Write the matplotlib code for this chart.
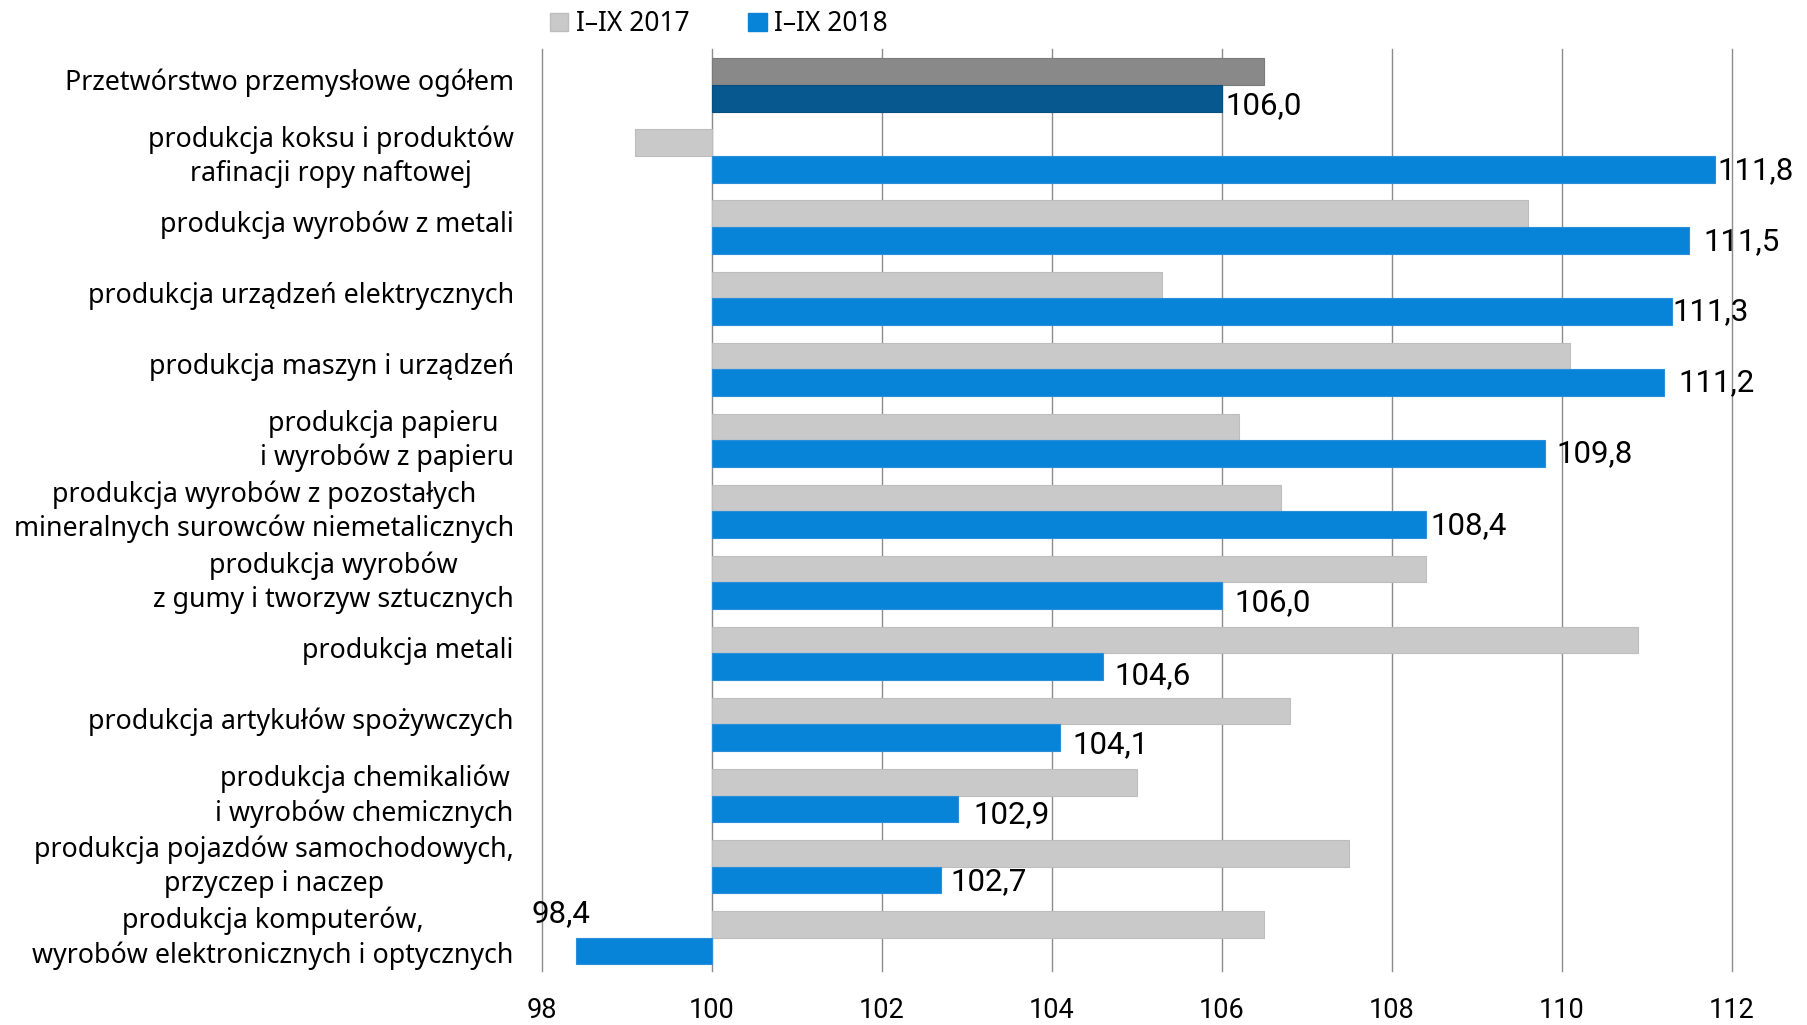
import matplotlib
matplotlib.use("Agg")
import matplotlib.pyplot as plt
import matplotlib.transforms as mtransforms
from matplotlib.patches import Patch

categories = [
    "Przetwórstwo przemysłowe ogółem",
    "produkcja koksu i produktów\nrafinacji ropy naftowej",
    "produkcja wyrobów z metali",
    "produkcja urządzeń elektrycznych",
    "produkcja maszyn i urządzeń",
    "produkcja papieru \ni wyrobów z papieru",
    "produkcja wyrobów z pozostałych\nmineralnych surowców niemetalicznych",
    "produkcja wyrobów\nz gumy i tworzyw sztucznych",
    "produkcja metali",
    "produkcja artykułów spożywczych",
    "produkcja chemikaliów\ni wyrobów chemicznych",
    "produkcja pojazdów samochodowych,\nprzyczep i naczep",
    "produkcja komputerów,\nwyrobów elektronicznych i optycznych",
]
v2017 = [106.5, 99.1, 109.6, 105.3, 110.1, 106.2, 106.7, 108.4, 110.9, 106.8, 105.0, 107.5, 106.5]
v2018 = [106.0, 111.8, 111.5, 111.3, 111.2, 109.8, 108.4, 106.0, 104.6, 104.1, 102.9, 102.7, 98.4]
series_names = ["I\u2013IX 2017", "I\u2013IX 2018"]
xticks = [98, 100, 102, 104, 106, 108, 110, 112]
base = 100

# style
GRAY, BLUE = "#c9c9c9", "#0784d8"
GRAY_TOT, BLUE_TOT = "#898989", "#07588f"
LABEL_FONT = ["Noto Sans", "DejaVu Sans"]
NUM_FONT = ["Roboto", "DejaVu Sans"]
# annotation offsets (pixels) for value labels
lab_dx = [4, 2, 14, 0, 14, 12, 5, 13, 12, 12, 15, 9]
lab_dy = [7, 1, 1, 0, 0, 0, 1, 7, 9, 7, 6, 2]

W, H = 1808, 1025
fig = plt.figure(figsize=(W / 100, H / 100), dpi=100)
left, right, top, bottom = 541.5, 1732, 49, 971
ax = fig.add_axes([left / W, 1 - bottom / H, (right - left) / W, (bottom - top) / H])

n = len(categories)
h = 0.375
ys = list(range(n))
c17 = [GRAY_TOT] + [GRAY] * (n - 1)
c18 = [BLUE_TOT] + [BLUE] * (n - 1)
e17 = ["#7a7a7a"] + ["#bdbdbd"] * (n - 1)
e18 = ["#064f80"] + ["#2a8fd8"] * (n - 1)

ax.barh([y - h / 2 for y in ys], [v - base for v in v2017], left=base, height=h,
        color=c17, edgecolor=e17, linewidth=0.8, zorder=2)
ax.barh([y + h / 2 for y in ys], [v - base for v in v2018], left=base, height=h,
        color=c18, edgecolor=e18, linewidth=0.8, zorder=2)

ax.set_xlim(98, 112)
ax.set_ylim(n - 1 + 0.47, -0.507)
ax.set_xticks(xticks)
ax.set_xticklabels([str(t) for t in xticks], fontsize=19.5, family=NUM_FONT)
ax.set_yticks(ys)
ax.set_yticklabels(categories, fontsize=19.3, family=LABEL_FONT, multialignment="center",
                   linespacing=1.28)
ax.tick_params(axis="both", length=0)
ax.tick_params(axis="x", pad=19)
ax.tick_params(axis="y", pad=20)
shift_up = mtransforms.ScaledTranslation(0, 6 / 100, fig.dpi_scale_trans)
for lbl in ax.get_yticklabels():
    lbl.set_transform(lbl.get_transform() + shift_up)
for s in ax.spines.values():
    s.set_visible(False)
ax.xaxis.grid(True, color="#8c8c8c", linewidth=1.0, zorder=0)
ax.set_axisbelow(True)
for g in ax.xaxis.get_gridlines():
    g.set_clip_on(False)

px2pt = 0.72
for i, v in enumerate(v2018):
    txt = f"{v:.1f}".replace(".", ",")
    if v >= base:
        ax.annotate(txt, xy=(v, i + h / 2), xytext=(lab_dx[i] * px2pt, -lab_dy[i] * px2pt),
                    textcoords="offset points", ha="left", va="center",
                    fontsize=22.5, family=NUM_FONT, color="black", zorder=3)
    else:
        ax.annotate(txt, xy=(v, i + h / 2), xytext=(-15 * px2pt, 37 * px2pt),
                    textcoords="offset points", ha="center", va="center",
                    fontsize=22.5, family=NUM_FONT, color="black", zorder=3)

handles = [Patch(facecolor=GRAY, edgecolor="#bdbdbd"), Patch(facecolor=BLUE, edgecolor=BLUE)]
leg = fig.legend(handles, series_names, loc="center left", bbox_to_anchor=(550 / W, 1 - 24 / H),
                 ncol=2, frameon=False, handlelength=0.7, handleheight=0.7,
                 handletextpad=0.3, columnspacing=2.2, borderaxespad=0, borderpad=0,
                 prop={"family": LABEL_FONT, "size": 19})

fig.savefig("out.png", dpi=100)
